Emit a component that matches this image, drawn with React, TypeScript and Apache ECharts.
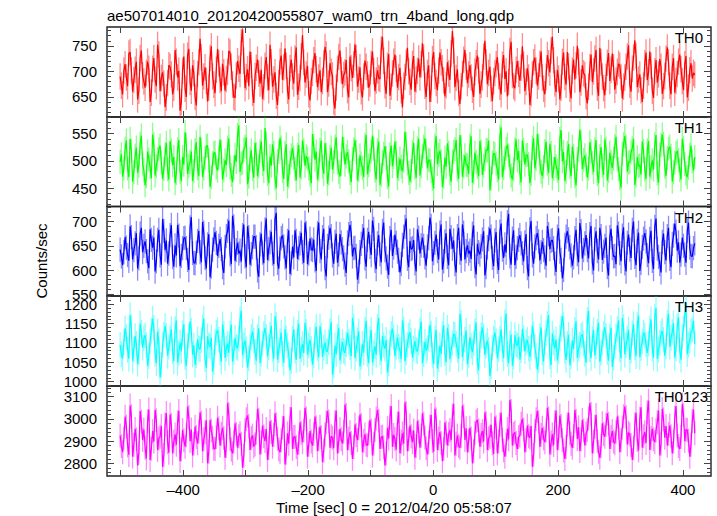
import React, { useEffect, useRef } from 'react';
import * as echarts from 'echarts';

const TITLE = 'ae507014010_20120420055807_wam0_trn_4band_long.qdp';
const X_TITLE = 'Time [sec] 0 = 2012/04/20 05:58:07';
const Y_TITLE = 'Counts/sec';
const PANEL_NAMES = ['TH0', 'TH1', 'TH2', 'TH3', 'TH0123'];
const COLORS = ['#ff0000', '#00ff00', '#0000ff', '#00ffff', '#ff00ff'];
const ERR_COLORS = ['rgba(255,0,0,0.45)', 'rgba(0,255,0,0.45)', 'rgba(0,0,255,0.45)', 'rgba(0,255,255,0.45)', 'rgba(255,0,255,0.45)'];

// time bins (bin centres, seconds)
const T_START = -501;
const T_STEP = 2;

const X_MIN = -522;
const X_MAX = 445;
const X_TICKS = [-500, -400, -300, -200, -100, 0, 100, 200, 300, 400];
const X_LABELS = [-400, -200, 0, 200, 400];

const Y_MIN = [610.5, 416.5, 546.5, 989, 2743];
const Y_MAX = [787, 580, 731, 1221, 3148];
const Y_LABELS = [
  [650, 700, 750],
  [450, 500, 550],
  [550, 600, 650, 700],
  [1000, 1050, 1100, 1150, 1200],
  [2800, 2900, 3000, 3100],
];
const Y_MINOR_STEP = [10, 10, 10, 10, 20];
const ERR = [26, 22, 25, 33, 54];

const TH0 = [
  690, 672, 655, 701, 714, 688, 671, 735, 738, 702, 660, 683, 703, 719, 645, 662, 726, 741, 692, 680,
  668, 697, 719, 705, 640, 658, 705, 726, 684, 671, 752, 733, 661, 687, 698, 676, 630, 649, 677, 712,
  709, 694, 655, 668, 742, 719, 688, 701, 623, 640, 701, 729, 666, 650, 731, 744, 679, 662, 712, 697,
  650, 633, 695, 718, 764, 727, 672, 690, 708, 681, 641, 668, 726, 749, 690, 674, 657, 703, 744, 716,
  683, 661, 715, 698, 662, 685, 699, 740, 737, 709, 674, 650, 648, 692, 720, 705, 695, 757, 782, 721,
  667, 689, 704, 671, 739, 712, 658, 638, 691, 707, 723, 696, 676, 703, 646, 669, 711, 728, 688, 663,
  752, 718, 670, 684, 698, 652, 634, 677, 719, 731, 683, 708, 745, 711, 662, 645, 706, 723, 690, 676,
  725, 747, 654, 670, 687, 729, 771, 718, 678, 694, 711, 655, 643, 681, 697, 722, 736, 704, 669, 688,
  702, 659, 681, 716, 748, 733, 659, 676, 716, 699, 692, 641, 627, 668, 705, 728, 741, 702, 675, 693,
  698, 722, 663, 649, 729, 706, 687, 714, 753, 726, 670, 684, 708, 661, 649, 690, 721, 709, 694, 668,
  676, 715, 739, 700, 661, 682, 702, 687, 685, 743, 768, 721, 673, 656, 711, 734, 652, 670, 696, 719,
  733, 705, 668, 689, 707, 663, 629, 672, 689, 717, 746, 700, 679, 664, 715, 730, 660, 684, 701, 725,
  688, 714, 755, 727, 672, 650, 697, 712, 640, 666, 724, 738, 691, 677, 663, 701, 737, 718, 706, 682,
  651, 673, 718, 696, 683, 735, 779, 741, 669, 687, 704, 658, 636, 671, 695, 723, 742, 709, 677, 694,
  712, 688, 664, 650, 699, 716, 731, 702, 656, 674, 688, 729, 760, 718, 675, 697, 709, 666, 642, 681,
  697, 714, 728, 691, 670, 655, 713, 732, 685, 700, 651, 679, 740, 758, 693, 671, 667, 703, 720, 695,
  682, 707, 749, 713, 661, 679, 706, 688, 634, 657, 694, 718, 727, 701, 672, 690, 715, 739, 688, 666,
  655, 689, 732, 716, 698, 741, 768, 722, 676, 659, 703, 686, 645, 668, 719, 737, 689, 674, 738, 710,
  666, 647, 701, 723, 684, 712, 750, 719, 659, 678, 712, 696, 693, 651, 637, 670, 708, 733, 679, 700,
  725, 742, 668, 652, 746, 718, 690, 667, 653, 689, 717, 736, 681, 703, 735, 708, 664, 682, 699, 715,
  711, 689, 647, 670, 688, 709, 729, 751, 674, 660, 705, 727, 761, 730, 669, 684, 694, 663, 640, 672,
  716, 737, 683, 698, 739, 711, 662, 648, 700, 722, 678, 694, 724, 709, 656, 671, 691, 725, 747, 718,
  672, 655, 709, 726, 658, 681, 695, 719, 733, 704, 681, 663, 714, 730, 649, 668, 702, 716, 686, 697,
  693,
];

const TH1 = [
  498, 512, 471, 486, 522, 537, 486, 470, 540, 518, 462, 479, 509, 524, 478, 491, 531, 546, 495, 483,
  455, 472, 517, 502, 489, 468, 548, 530, 473, 490, 503, 521, 528, 497, 467, 485, 512, 533, 484, 466,
  536, 519, 492, 507, 459, 478, 521, 538, 480, 463, 507, 493, 552, 529, 476, 490, 498, 517, 463, 481,
  519, 534, 487, 472, 544, 520, 470, 486, 505, 527, 528, 501, 452, 470, 496, 514, 515, 488, 482, 506,
  539, 516, 466, 483, 501, 492, 524, 541, 488, 474, 461, 487, 511, 498, 547, 565, 479, 495, 497, 520,
  526, 543, 457, 471, 503, 519, 485, 469, 533, 512, 472, 490, 518, 535, 494, 481, 560, 532, 476, 459,
  508, 491, 530, 514, 468, 450, 499, 516, 542, 524, 481, 467, 514, 530, 453, 472, 497, 510, 523, 506,
  485, 464, 512, 529, 469, 488, 537, 519, 491, 508, 504, 486, 475, 459, 549, 527, 502, 517, 466, 484,
  520, 537, 489, 476, 532, 511, 458, 477, 507, 524, 484, 498, 526, 543, 497, 480, 471, 494, 544, 522,
  493, 508, 516, 499, 478, 461, 503, 521, 538, 516, 464, 483, 510, 495, 487, 470, 529, 547, 475, 492,
  501, 517, 546, 522, 482, 466, 519, 535, 456, 474, 498, 513, 527, 505, 470, 453, 512, 528, 490, 507,
  535, 514, 468, 485, 504, 489, 481, 500, 553, 531, 495, 478, 462, 481, 516, 533, 488, 469, 523, 540,
  473, 490, 509, 526, 541, 518, 486, 502, 500, 481, 467, 449, 528, 545, 494, 511, 518, 499, 452, 471,
  506, 489, 532, 515, 477, 462, 499, 516, 521, 538, 484, 467, 547, 525, 471, 490, 510, 493, 492, 476,
  528, 545, 460, 479, 515, 498, 489, 472, 536, 517, 474, 491, 503, 520, 519, 537, 446, 468, 497, 514,
  512, 495, 483, 466, 544, 561, 470, 487, 505, 522, 529, 510, 490, 473, 466, 484, 521, 539, 501, 518,
  478, 461, 537, 520, 493, 510, 511, 494, 459, 476, 524, 541, 486, 503, 549, 528, 497, 480, 472, 489,
  518, 535, 495, 478, 531, 514, 468, 485, 507, 490, 482, 465, 540, 556, 499, 516, 463, 480, 514, 531,
  489, 472, 526, 509, 472, 455, 503, 520, 557, 534, 485, 502, 510, 493, 469, 486, 534, 517, 496, 479,
  521, 538, 476, 459, 508, 525, 491, 474, 539, 522, 464, 481, 515, 498, 487, 504, 527, 544, 502, 485,
  468, 451, 513, 530, 545, 526, 480, 497, 498, 515, 523, 540, 456, 473, 507, 490, 492, 475, 535, 518,
  484, 467, 519, 536, 471, 488, 501, 484, 530, 547, 477, 460, 512, 529, 548, 531, 489, 472, 505, 522,
  526, 509, 462, 479, 497, 514, 518, 501, 483, 466, 540, 523, 494, 477, 470, 487, 511, 528, 499, 482,
  507,
];

const TH2 = [
  642, 628, 610, 637, 668, 646, 631, 619, 690, 668, 622, 641, 655, 676, 603, 624, 675, 687, 637, 650,
  659, 639, 618, 604, 684, 662, 646, 667, 597, 618, 662, 683, 630, 611, 705, 681, 641, 661, 613, 634,
  672, 693, 627, 607, 651, 630, 693, 671, 608, 629, 645, 666, 667, 645, 621, 600, 688, 709, 635, 615,
  614, 636, 660, 681, 637, 616, 699, 677, 625, 603, 653, 674, 585, 607, 642, 663, 678, 656, 629, 650,
  664, 643, 606, 594, 648, 670, 681, 702, 633, 612, 712, 690, 619, 641, 656, 634, 640, 618, 672, 694,
  628, 606, 690, 668, 611, 633, 647, 669, 669, 647, 599, 586, 653, 675, 636, 614, 684, 706, 621, 643,
  657, 679, 634, 612, 706, 718, 615, 603, 644, 666, 671, 649, 626, 604, 660, 682, 592, 614, 648, 626,
  682, 660, 623, 645, 655, 677, 637, 615, 698, 676, 612, 634, 665, 643, 641, 663, 620, 598, 676, 698,
  639, 622, 668, 685, 604, 587, 650, 667, 687, 670, 630, 613, 658, 675, 615, 632, 674, 657, 643, 626,
  611, 594, 657, 674, 693, 676, 628, 645, 646, 629, 580, 597, 637, 654, 670, 687, 624, 607, 662, 679,
  648, 631, 702, 685, 619, 602, 655, 672, 633, 616, 681, 698, 641, 624, 607, 590, 666, 683, 629, 646,
  673, 656, 638, 621, 595, 612, 652, 669, 689, 706, 623, 606, 660, 643, 645, 662, 614, 597, 684, 667,
  634, 651, 667, 650, 626, 609, 649, 666, 708, 691, 618, 635, 656, 673, 639, 622, 677, 694, 601, 618,
  659, 676, 627, 610, 685, 668, 644, 661, 612, 595, 670, 687, 636, 619, 694, 677, 622, 639, 651, 634,
  640, 623, 675, 692, 608, 591, 654, 637, 632, 649, 663, 680, 589, 606, 647, 664, 686, 669, 625, 608,
  661, 678, 617, 600, 679, 696, 642, 625, 653, 636, 699, 716, 628, 611, 665, 682, 610, 627, 645, 662,
  672, 655, 635, 618, 657, 674, 604, 587, 684, 701, 630, 613, 649, 666, 676, 659, 620, 637, 658, 641,
  626, 609, 691, 674, 643, 660, 662, 645, 613, 596, 669, 686, 638, 621, 583, 600, 652, 669, 680, 663,
  647, 630, 609, 626, 666, 683, 633, 616, 697, 680, 624, 641, 655, 672, 641, 624, 674, 691, 616, 599,
  663, 680, 639, 622, 687, 670, 621, 638, 650, 667, 606, 589, 668, 685, 645, 628, 629, 612, 692, 675,
  635, 618, 671, 688, 614, 597, 656, 673, 642, 625, 683, 700, 627, 610, 660, 677, 598, 615, 648, 665,
  676, 659, 631, 614, 664, 681, 619, 602, 689, 706, 644, 627, 612, 595, 658, 675, 637, 620, 670, 687,
  623, 606, 654, 671, 696, 679, 640, 657, 615, 632, 667, 650, 632, 615, 681, 698, 646, 629, 628, 645,
  655,
];

const TH3 = [
  1095, 1071, 1060, 1102, 1138, 1115, 1082, 1059, 1172, 1140, 1054, 1083, 1118, 1097, 1046, 1075, 1150, 1127, 1088, 1112,
  1120, 1094, 1041, 1066, 1105, 1131, 1163, 1139, 1072, 1048, 1129, 1104, 1011, 1043, 1096, 1121, 1144, 1118, 1067, 1090,
  1112, 1136, 1078, 1053, 1135, 1158, 1049, 1074, 1101, 1079, 1125, 1148, 1063, 1040, 1092, 1117, 1156, 1132, 1070, 1094,
  1043, 1068, 1109, 1086, 1084, 1107, 1141, 1163, 1058, 1035, 1117, 1094, 1090, 1113, 1026, 1051, 1102, 1126, 1133, 1109,
  1075, 1052, 1148, 1124, 1061, 1085, 1098, 1074, 1124, 1147, 1052, 1077, 1113, 1090, 1087, 1110, 1160, 1183, 1069, 1093,
  1106, 1083, 1036, 1060, 1091, 1115, 1130, 1106, 1077, 1054, 1115, 1138, 1048, 1072, 1099, 1123, 1139, 1116, 1065, 1089,
  1121, 1144, 1083, 1059, 1169, 1146, 1057, 1081, 1104, 1127, 1072, 1049, 1136, 1112, 1093, 1070, 1029, 1053, 1111, 1135,
  1080, 1056, 1127, 1150, 1059, 1083, 1097, 1074, 1152, 1129, 1070, 1094, 1108, 1085, 1044, 1068, 1119, 1142, 1086, 1063,
  1143, 1120, 1064, 1088, 1101, 1078, 1079, 1102, 1131, 1154, 1018, 1042, 1094, 1071, 1116, 1139, 1055, 1079, 1103, 1080,
  1074, 1097, 1126, 1103, 1089, 1066, 1165, 1142, 1061, 1085, 1107, 1130, 1039, 1063, 1098, 1075, 1134, 1157, 1071, 1048,
  1110, 1133, 1050, 1074, 1092, 1069, 1142, 1165, 1076, 1053, 1118, 1095, 1085, 1108, 1024, 1048, 1100, 1123, 1137, 1114,
  1066, 1090, 1114, 1091, 1081, 1058, 1158, 1135, 1053, 1077, 1096, 1119, 1128, 1105, 1062, 1086, 1105, 1082, 1078, 1101,
  1132, 1155, 1047, 1071, 1103, 1080, 1087, 1110, 1147, 1124, 1068, 1045, 1111, 1134, 1034, 1058, 1094, 1071, 1123, 1146,
  1073, 1050, 1139, 1116, 1058, 1082, 1100, 1123, 1121, 1098, 1082, 1059, 1175, 1152, 1063, 1087, 1109, 1132, 1045, 1069,
  1115, 1092, 1076, 1099, 1130, 1153, 1052, 1029, 1097, 1120, 1140, 1117, 1069, 1093, 1106, 1083, 1015, 1039, 1088, 1111,
  1127, 1104, 1060, 1084, 1112, 1135, 1084, 1061, 1153, 1176, 1071, 1048, 1099, 1122, 1041, 1065, 1120, 1097, 1093, 1116,
  1057, 1081, 1136, 1113, 1078, 1101, 1108, 1085, 1064, 1088, 1145, 1122, 1090, 1067, 1031, 1055, 1117, 1140, 1075, 1052,
  1102, 1125, 1149, 1172, 1066, 1043, 1124, 1101, 1086, 1109, 1055, 1079, 1113, 1136, 1170, 1147, 1079, 1056, 1098, 1121,
  1042, 1066, 1107, 1084, 1133, 1156, 1061, 1085, 1095, 1118, 1122, 1099, 1072, 1049, 1159, 1182, 1084, 1061, 1110, 1133,
  1068, 1091, 1129, 1152, 1051, 1075, 1100, 1123, 1141, 1118, 1077, 1054, 1116, 1139, 1038, 1062, 1092, 1115, 1135, 1158,
  1083, 1060, 1164, 1141, 1070, 1094, 1111, 1134, 1056, 1080, 1125, 1148, 1089, 1066, 1147, 1170, 1063, 1087, 1104, 1127,
  1119, 1096, 1074, 1098, 1138, 1161, 1085, 1062, 1167, 1190, 1059, 1083, 1101, 1124, 1131, 1108, 1067, 1091, 1152, 1175,
  1090, 1113, 1128, 1151, 1062, 1086, 1143, 1166, 1080, 1057, 1115, 1138, 1173, 1196, 1071, 1095, 1106, 1129, 1134, 1157,
  1097,
];

const TH0123 = [
  2925, 2878, 2850, 2912, 3010, 2965, 2880, 2838, 3060, 3012, 2830, 2884, 2955, 2908, 2790, 2846, 3035, 2988, 2905, 2952,
  2870, 2822, 2990, 3042, 2815, 2866, 2945, 2898, 3040, 2994, 2860, 2912, 2920, 2968, 2785, 2838, 2975, 3026, 2895, 2848,
  3020, 2972, 2845, 2898, 2930, 2884, 2985, 3036, 2810, 2862, 2950, 2904, 2875, 2926, 3055, 3008, 2900, 2952, 2835, 2888,
  2965, 2918, 2890, 2942, 3030, 2984, 2855, 2908, 2940, 2994, 2800, 2852, 2995, 2948, 2915, 2866, 2865, 2918, 3005, 2958,
  2880, 2932, 2960, 2914, 2825, 2878, 3070, 3022, 2910, 2862, 2845, 2898, 2980, 2932, 2870, 2922, 2935, 2888, 2780, 2834,
  2950, 2998, 3015, 2968, 2860, 2914, 2925, 2876, 2885, 2938, 3045, 2996, 2840, 2894, 2970, 2922, 2900, 2954, 2815, 2868,
  2990, 2942, 2875, 2928, 3025, 2976, 2910, 2862, 2850, 2904, 2960, 3012, 2795, 2848, 2935, 2888, 3000, 3052, 2865, 2918,
  2920, 2874, 2840, 2892, 2985, 2938, 2895, 2948, 3050, 3002, 2830, 2884, 2945, 2898, 2880, 2932, 3010, 2962, 2855, 2908,
  2965, 2918, 2805, 2858, 2930, 2984, 3035, 2988, 2870, 2922, 2915, 2868, 2985, 3038, 2845, 2898, 2955, 2908, 2890, 2942,
  3065, 3018, 2860, 2912, 2940, 2892, 2820, 2874, 2975, 2928, 2905, 2958, 3020, 2972, 2850, 2902, 2930, 2884, 2880, 2934,
  2995, 2948, 2835, 2888, 2950, 3002, 3040, 2992, 2865, 2918, 2920, 2872, 2790, 2844, 2960, 2912, 3005, 3058, 2875, 2928,
  2910, 2862, 2980, 3032, 2845, 2898, 2935, 2888, 3075, 3026, 2855, 2908, 2970, 2922, 2895, 2948, 2825, 2878, 2990, 2942,
  2870, 2924, 3025, 2978, 2915, 2868, 2840, 2894, 2965, 3018, 2900, 2852, 3045, 2998, 2860, 2912, 2940, 2892, 2810, 2864,
  2985, 2938, 2880, 2932, 2950, 2904, 3015, 3068, 2835, 2888, 2925, 2878, 2870, 2922, 3060, 3012, 2905, 2958, 2850, 2902,
  2960, 2912, 2800, 2854, 2935, 2988, 2995, 2948, 2875, 2928, 2945, 2898, 3030, 2982, 2860, 2912, 2920, 2974, 2890, 2842,
  3010, 2962, 2845, 2898, 2975, 3028, 2905, 2858, 2830, 2884, 2955, 2908, 3085, 3036, 2880, 2932, 2940, 2892, 2865, 2918,
  2925, 2978, 3000, 2952, 2850, 2904, 2970, 2922, 2915, 2968, 2785, 2838, 2945, 2998, 3035, 2986, 2875, 2928, 2960, 2912,
  2895, 2948, 3050, 3002, 2840, 2894, 2930, 2882, 2985, 3038, 2860, 2912, 3015, 2968, 2905, 2858, 2820, 2874, 2975, 3028,
  2935, 2888, 2870, 2922, 3040, 2992, 2910, 2962, 2855, 2908, 2995, 2948, 2880, 2934, 2950, 3002, 3070, 3022, 2845, 2898,
  2965, 3018, 2900, 2852, 2825, 2878, 2980, 2932, 2920, 2974, 3025, 2978, 2865, 2918, 2945, 2898, 2890, 2942, 3010, 2962,
  2850, 2904, 2960, 3012, 3055, 3008, 2885, 2938, 2930, 2882, 2815, 2868, 2975, 3028, 2905, 2858, 3000, 3052, 2870, 2922,
  2940, 2892, 3030, 3082, 2860, 2914, 2955, 2908, 2895, 2948, 2985, 3038, 2835, 2888, 3045, 2998, 2915, 2968, 2880, 2932,
  2970, 2922, 2845, 2898, 3005, 3058, 2925, 2878, 2865, 2918, 3065, 3018, 2900, 2952, 2950, 2902, 2830, 2884, 2990, 3042,
  2935,
];

const SERIES_VALUES = [TH0, TH1, TH2, TH3, TH0123];

const FONT = '"Liberation Sans", Arial, Helvetica, sans-serif';

export default function App() {
  const ref = useRef<HTMLDivElement>(null);

  useEffect(() => {
    if (!ref.current) return;
    const chart = echarts.init(ref.current, undefined, { renderer: 'svg' });

    const tops = [27, 117, 206.5, 296, 386];
    const heights = [90, 89.5, 89.5, 90, 90];
    const labelRight = [703, 703, 703, 703, 708];
    const tickColor = '#444';

    const grids: any[] = [];
    const xAxes: any[] = [];
    const yAxes: any[] = [];
    const series: any[] = [];
    const graphics: any[] = [];

    const minorTicks = (i: number) => {
      const out: number[] = [];
      const s = Y_MINOR_STEP[i];
      for (let v = Math.ceil(Y_MIN[i] / s) * s; v <= Y_MAX[i]; v += s) out.push(v);
      return out;
    };

    for (let i = 0; i < 5; i++) {
      grids.push({
        left: 107,
        right: 6,
        top: tops[i],
        height: heights[i],
        show: true,
        borderColor: '#222',
        borderWidth: 1.4,
        backgroundColor: 'transparent',
      });

      const xBase = {
        type: 'value',
        gridIndex: i,
        min: X_MIN,
        max: X_MAX,
        axisLine: { show: false, onZero: false },
        splitLine: { show: false },
        axisTick: { show: true, inside: true, length: 6, customValues: X_TICKS, lineStyle: { color: tickColor, width: 1 } },
      };
      xAxes.push({
        ...xBase,
        position: 'bottom',
        axisLabel: {
          show: i === 4,
          customValues: X_LABELS,
          margin: 6,
          fontSize: 15,
          color: '#000',
          fontFamily: FONT,
          formatter: (v: number) => (v < 0 ? '\u2013' + Math.abs(v) : String(v)),
        },
      });
      xAxes.push({ ...xBase, position: 'top', axisLabel: { show: false } });

      const yBase = {
        type: 'value',
        gridIndex: i,
        min: Y_MIN[i],
        max: Y_MAX[i],
        axisLine: { show: false, onZero: false },
        splitLine: { show: false },
      };
      const minor = minorTicks(i);
      yAxes.push({
        ...yBase,
        position: 'left',
        axisTick: { show: true, inside: true, length: 7, customValues: Y_LABELS[i], lineStyle: { color: tickColor, width: 1 } },
        axisLabel: {
          show: true,
          customValues: Y_LABELS[i],
          margin: 10,
          fontSize: 15,
          lineHeight: 15,
          color: '#000',
          fontFamily: FONT,
          formatter: (v: number) => String(v),
        },
      });
      yAxes.push({
        ...yBase,
        position: 'left',
        axisTick: { show: true, inside: true, length: 4, customValues: minor, lineStyle: { color: tickColor, width: 1 } },
        axisLabel: { show: false },
      });
      yAxes.push({
        ...yBase,
        position: 'right',
        axisTick: { show: true, inside: true, length: 7, customValues: Y_LABELS[i], lineStyle: { color: tickColor, width: 1 } },
        axisLabel: { show: false },
      });
      yAxes.push({
        ...yBase,
        position: 'right',
        axisTick: { show: true, inside: true, length: 4, customValues: minor, lineStyle: { color: tickColor, width: 1 } },
        axisLabel: { show: false },
      });

      const vals = SERIES_VALUES[i];
      const err = ERR[i];
      const errColor = ERR_COLORS[i];
      series.push({
        type: 'custom',
        xAxisIndex: 2 * i,
        yAxisIndex: 4 * i,
        clip: true,
        silent: true,
        z: 1,
        encode: { x: 0, y: 1 },
        data: vals.map((v, k) => [T_START + k * T_STEP, v, err]),
        renderItem: (params: any, api: any) => {
          const x = api.value(0);
          const y = api.value(1);
          const e = api.value(2);
          const p1 = api.coord([x, y - e]);
          const p2 = api.coord([x, y + e]);
          return {
            type: 'line',
            shape: { x1: p1[0], y1: p1[1], x2: p2[0], y2: p2[1] },
            style: { stroke: errColor, lineWidth: 1.3 },
          };
        },
      });
      series.push({
        type: 'line',
        xAxisIndex: 2 * i,
        yAxisIndex: 4 * i,
        data: vals.map((v, k) => [T_START + k * T_STEP, v]),
        symbol: 'none',
        clip: true,
        silent: true,
        z: 2,
        lineStyle: { color: COLORS[i], width: 1.2 },
      });

      graphics.push({
        type: 'text',
        x: labelRight[i],
        y: tops[i] + 10.5,
        z: 100,
        style: { text: PANEL_NAMES[i], fill: '#000', font: `15px ${FONT}`, align: 'right', verticalAlign: 'middle' },
      });
    }

    graphics.push({
      type: 'text',
      x: 107,
      y: 15,
      style: { text: TITLE, fill: '#000', font: `15px ${FONT}`, align: 'left', verticalAlign: 'middle' },
    });
    graphics.push({
      type: 'text',
      x: 276,
      y: 507,
      style: { text: X_TITLE, fill: '#000', font: `15px ${FONT}`, align: 'left', verticalAlign: 'middle' },
    });
    graphics.push({
      type: 'text',
      x: 41,
      y: 261,
      rotation: Math.PI / 2,
      style: { text: Y_TITLE, fill: '#000', font: `15px ${FONT}`, align: 'center', verticalAlign: 'middle' },
    });

    chart.setOption({
      animation: false,
      backgroundColor: '#ffffff',
      grid: grids,
      xAxis: xAxes,
      yAxis: yAxes,
      series,
      graphic: graphics,
    });

    return () => {
      chart.dispose();
    };
  }, []);

  return <div ref={ref} style={{ position: 'fixed', left: 0, top: 0, width: 717, height: 516 }} />;
}
